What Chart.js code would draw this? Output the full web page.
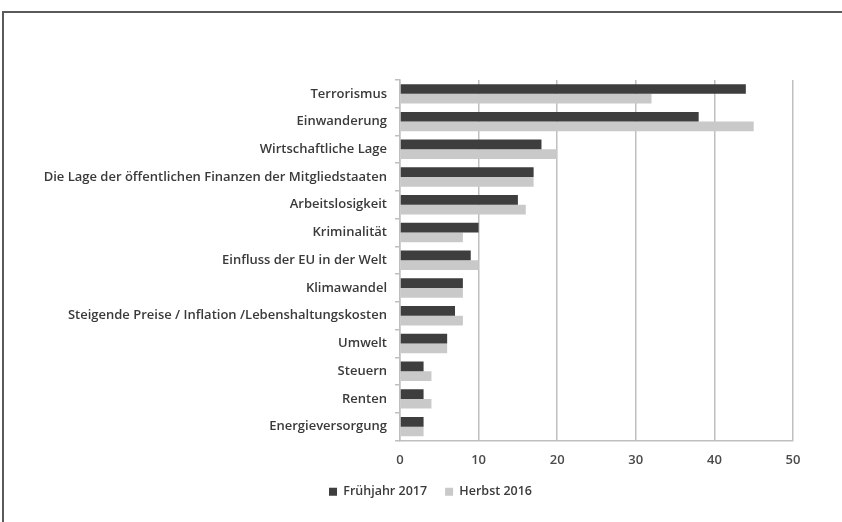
<!DOCTYPE html>
<html lang="de">
<head>
<meta charset="utf-8">
<title>Wichtigste Probleme der EU</title>
<script src="https://cdn.jsdelivr.net/npm/chart.js@4.4.1/dist/chart.umd.min.js"></script>
<style>
  html, body { margin: 0; padding: 0; background: #fff; }
  .wrap { position: relative; width: 842px; height: 522px; }
  .rahmen { position: absolute; left: 2px; top: 11px; right: 0; bottom: 0; border-top: 2px solid #5a5a5a; border-left: 2px solid #5a5a5a; pointer-events: none; }
  canvas { position: absolute; left: 0; top: 0; }
</style>
</head>
<body>
<div class="wrap">
  <canvas id="grafik" width="842" height="522"></canvas>
  <div class="rahmen"></div>
</div>
<script>
// Themen und Werte (in %)
const themen = [
  'Terrorismus',
  'Einwanderung',
  'Wirtschaftliche Lage',
  'Die Lage der öffentlichen Finanzen der Mitgliedstaaten',
  'Arbeitslosigkeit',
  'Kriminalität',
  'Einfluss der EU in der Welt',
  'Klimawandel',
  'Steigende Preise / Inflation /Lebenshaltungskosten',
  'Umwelt',
  'Steuern',
  'Renten',
  'Energieversorgung'
];
const fruehjahr2017 = [44, 38, 18, 17, 15, 10, 9, 8, 7, 6, 3, 3, 3];
const herbst2016 = [32, 45, 20, 17, 16, 8, 10, 8, 8, 6, 4, 4, 3];
const xTicks = [0, 10, 20, 30, 40, 50];

const schrift = "'Open Sans', 'DejaVu Sans', sans-serif";
const gitter = '#bfbfbf';

// Legende etwas nach rechts schieben (unter die Mitte der Achse)
const legendeVersatz = {
  id: 'legendeVersatz',
  afterLayout(chart) {
    chart.legend.left += 19;
    chart.legend.right += 19;
  }
};

new Chart(document.getElementById('grafik').getContext('2d'), {
  type: 'bar',
  data: {
    labels: themen,
    datasets: [
      { label: 'Frühjahr 2017', data: fruehjahr2017, backgroundColor: '#3e3e3e' },
      { label: 'Herbst 2016', data: herbst2016, backgroundColor: '#c9c9c9' }
    ]
  },
  options: {
    indexAxis: 'y',
    responsive: false,
    animation: false,
    datasets: { bar: { categoryPercentage: 0.7, barPercentage: 1.0 } },
    layout: { padding: { left: 30, right: 49, top: 80, bottom: 14 } },
    scales: {
      x: {
        min: 0,
        max: 50,
        afterBuildTicks: s => { s.ticks = xTicks.map(v => ({ value: v })); },
        afterFit: s => { s.height = 27; },
        grid: { color: gitter, lineWidth: 1.5, drawTicks: false },
        border: { color: gitter, width: 1.5 },
        ticks: { color: '#4a4a4a', padding: 12, font: { family: schrift, size: 13, weight: '600' } }
      },
      y: {
        afterFit: s => { s.width = 370; },
        grid: { drawOnChartArea: false, color: gitter, lineWidth: 1.5, tickLength: 5 },
        border: { color: gitter, width: 1.5 },
        ticks: { color: '#3a3a3a', padding: 8, font: { family: schrift, size: 13, weight: '600' } }
      }
    },
    plugins: {
      legend: {
        position: 'bottom',
        labels: {
          color: '#3a3a3a',
          boxWidth: 8,
          boxHeight: 8,
          padding: 18,
          font: { family: schrift, size: 12.5, weight: '600' }
        }
      },
      tooltip: { enabled: false }
    }
  },
  plugins: [legendeVersatz]
});
</script>
</body>
</html>
